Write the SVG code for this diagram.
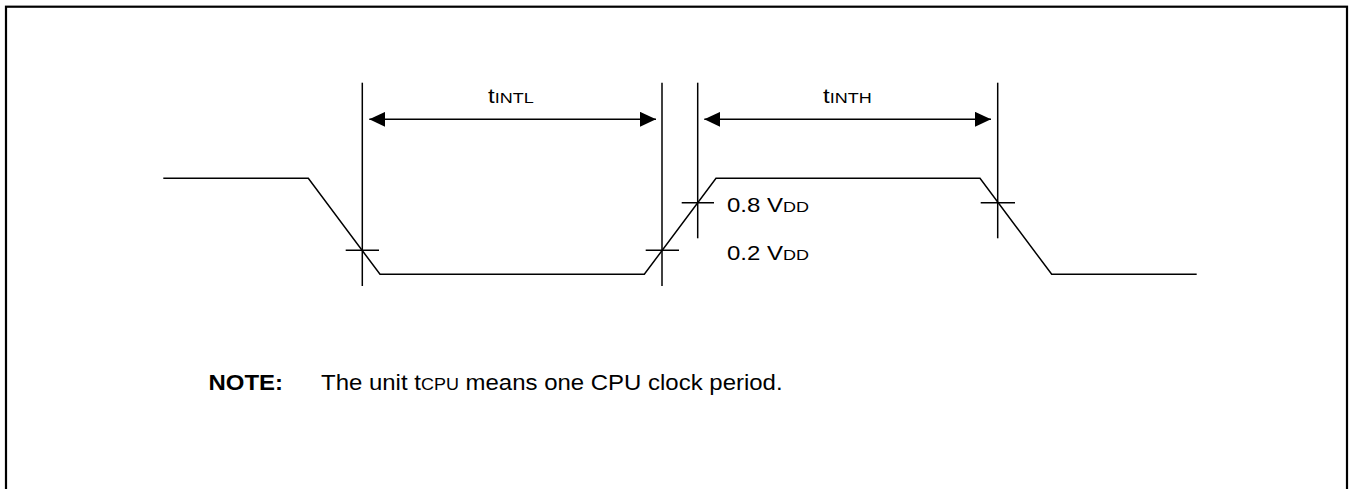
<svg xmlns="http://www.w3.org/2000/svg" width="1353" height="489" viewBox="0 0 1353 489">
  <defs>
    <style>
      .ln { stroke: #000; stroke-width: 1.5; fill: none; }
      .txt { font-family: "Liberation Sans", Arial, sans-serif; font-size: 20px; fill: #000; }
      .sub { font-size: 15px; }
      .note { font-size: 22px; }
      .nsub { font-size: 16.5px; }
      .bold { font-weight: bold; }
    </style>
    <marker id="ah" viewBox="0 0 16 15" refX="16" refY="7.5" markerWidth="16" markerHeight="15" markerUnits="userSpaceOnUse" orient="auto-start-reverse">
      <path d="M0,0 L16,7.5 L0,15 Z" fill="#000"/>
    </marker>
  </defs>
  <rect x="0" y="0" width="1353" height="489" fill="#fff"/>
  <rect id="frame" x="6" y="6.7" width="1341" height="520" fill="none" stroke="#000" stroke-width="2.2"/>

  <g id="waveform">
    <polyline class="ln" points="163.3,178.3 308.3,178.3 380,274.3 644.3,274.3 716,178.3 980,178.3 1051.7,274.3 1196.7,274.3"/>
  </g>

  <g id="connectors">
    <line class="ln" x1="362.3" y1="82.7" x2="362.3" y2="286"/>
    <line class="ln" x1="662" y1="82.7" x2="662" y2="286"/>
    <line class="ln" x1="697.7" y1="82.7" x2="697.7" y2="238.3"/>
    <line class="ln" x1="997.7" y1="82.7" x2="997.7" y2="238.3"/>
    <line class="ln" x1="345.7" y1="250.3" x2="379" y2="250.3"/>
    <line class="ln" x1="645.7" y1="250.3" x2="679" y2="250.3"/>
    <line class="ln" x1="681.7" y1="202.7" x2="714" y2="202.7"/>
    <line class="ln" x1="980.7" y1="202.7" x2="1015" y2="202.7"/>
    <line class="ln" x1="369.3" y1="119.3" x2="656" y2="119.3" marker-start="url(#ah)" marker-end="url(#ah)"/>
    <line class="ln" x1="704.3" y1="119.3" x2="991" y2="119.3" marker-start="url(#ah)" marker-end="url(#ah)"/>
  </g>

  <g id="label-tintl">
    <text class="txt" transform="translate(488,103) scale(1.2,1)">t<tspan class="sub">INTL</tspan></text>
  </g>
  <g id="label-tinth">
    <text class="txt" transform="translate(823,103) scale(1.2,1)">t<tspan class="sub">INTH</tspan></text>
  </g>
  <g id="label-08vdd">
    <text class="txt" transform="translate(727,212) scale(1.2,1)">0.8 V<tspan class="sub">DD</tspan></text>
  </g>
  <g id="label-02vdd">
    <text class="txt" transform="translate(727,260) scale(1.2,1)">0.2 V<tspan class="sub">DD</tspan></text>
  </g>
  <g id="note">
    <text class="txt note bold" transform="translate(208.5,390) scale(1.09,1)">NOTE:</text>
    <text class="txt note" transform="translate(321,390) scale(1.09,1)">The unit t<tspan class="nsub">CPU</tspan> means one CPU clock period.</text>
  </g>
</svg>
